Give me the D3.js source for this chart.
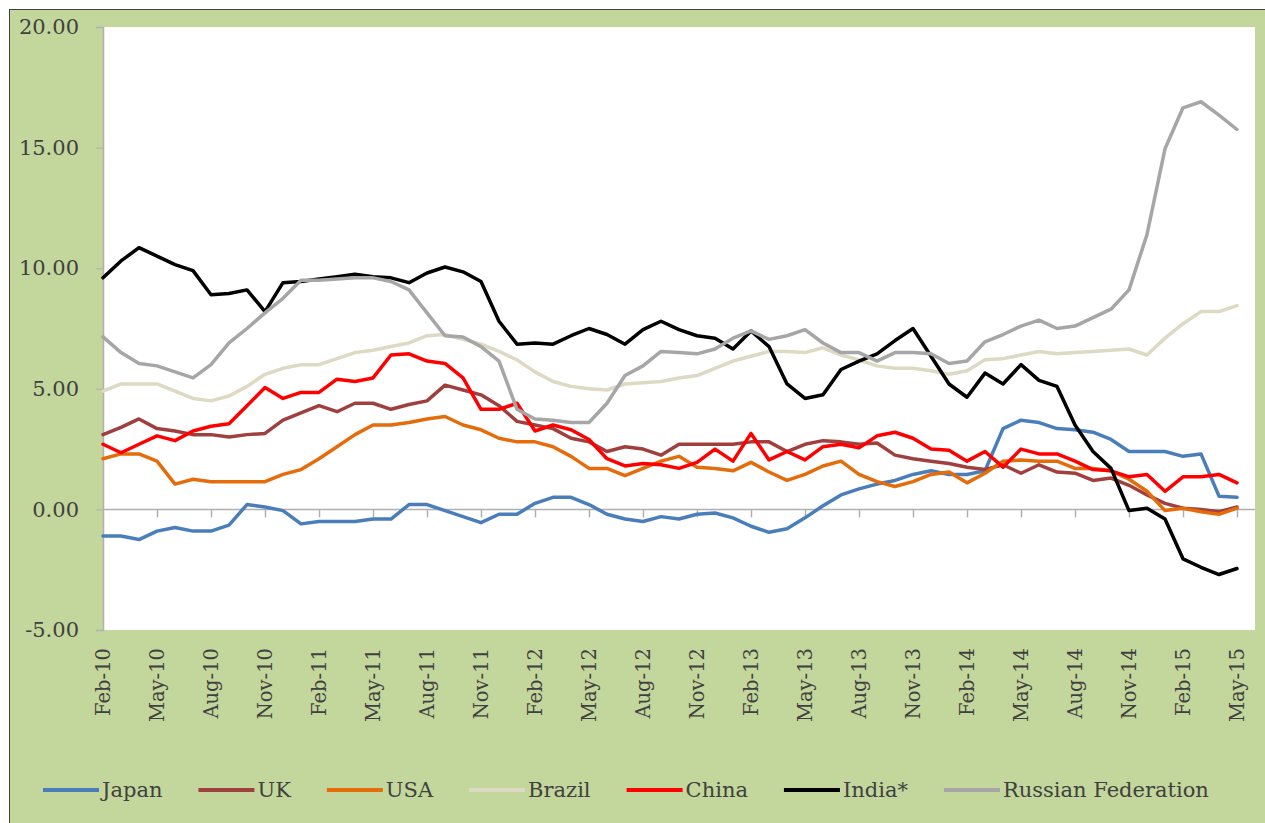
<!DOCTYPE html>
<html>
<head>
<meta charset="utf-8">
<script src="https://cdn.jsdelivr.net/npm/d3@7"></script>
<style>
    body { margin: 0; background: #ffffff; }
    svg { display: block; }
</style>
</head>
<body>
<svg id="chart" width="1265" height="823"></svg>
<script>
// x axis: one point per month, Feb-10 .. May-15
const tick_labels = ["Feb-10", "May-10", "Aug-10", "Nov-10", "Feb-11", "May-11", "Aug-11", "Nov-11",
    "Feb-12", "May-12", "Aug-12", "Nov-12", "Feb-13", "May-13", "Aug-13", "Nov-13",
    "Feb-14", "May-14", "Aug-14", "Nov-14", "Feb-15", "May-15"];
const month_count = 64;
const y_ticks = [-5, 0, 5, 10, 15, 20];

const series_names = ["Japan", "UK", "USA", "Brazil", "China", "India*", "Russian Federation"];
const series_colors = ["#4a7ebb", "#a0403e", "#e46c0a", "#ddd9c3", "#ff0000", "#000000", "#a6a6a6"];

const japan = [-1.1, -1.1, -1.25, -0.9, -0.75, -0.9, -0.9, -0.65,
    0.2, 0.1, -0.05, -0.6, -0.5, -0.5, -0.5, -0.4,
    -0.4, 0.2, 0.2, -0.05, -0.3, -0.55, -0.2, -0.2,
    0.25, 0.5, 0.5, 0.2, -0.2, -0.4, -0.5, -0.3,
    -0.4, -0.2, -0.15, -0.35, -0.7, -0.95, -0.8, -0.35,
    0.15, 0.6, 0.85, 1.05, 1.2, 1.45, 1.6, 1.45,
    1.45, 1.6, 3.35, 3.7, 3.6, 3.35, 3.3, 3.2,
    2.9, 2.4, 2.4, 2.4, 2.2, 2.3, 0.55, 0.5];
const uk = [3.1, 3.4, 3.75, 3.35, 3.25, 3.1, 3.1, 3.0,
    3.1, 3.15, 3.7, 4.0, 4.3, 4.05, 4.4, 4.4,
    4.15, 4.35, 4.5, 5.15, 4.95, 4.75, 4.3, 3.65,
    3.5, 3.35, 2.95, 2.8, 2.4, 2.6, 2.5, 2.25,
    2.7, 2.7, 2.7, 2.7, 2.8, 2.8, 2.4, 2.7,
    2.85, 2.8, 2.7, 2.75, 2.25, 2.1, 2.0, 1.9,
    1.75, 1.65, 1.85, 1.5, 1.85, 1.55, 1.5, 1.2,
    1.3, 1.0, 0.6, 0.25, 0.05, 0.0, -0.1, 0.1];
const usa = [2.1, 2.3, 2.3, 2.0, 1.05, 1.25, 1.15, 1.15,
    1.15, 1.15, 1.45, 1.65, 2.1, 2.6, 3.1, 3.5,
    3.5, 3.6, 3.75, 3.85, 3.5, 3.3, 2.95, 2.8,
    2.8, 2.6, 2.2, 1.7, 1.7, 1.4, 1.7, 2.0,
    2.2, 1.75, 1.7, 1.6, 1.95, 1.55, 1.2, 1.45,
    1.8, 2.0, 1.45, 1.15, 0.95, 1.15, 1.45, 1.55,
    1.1, 1.5, 2.0, 2.05, 2.0, 2.0, 1.7, 1.7,
    1.6, 1.25, 0.75, -0.05, 0.05, -0.1, -0.2, 0.05];
const brazil = [4.9, 5.2, 5.2, 5.2, 4.9, 4.6, 4.5, 4.7,
    5.1, 5.6, 5.85, 6.0, 6.0, 6.25, 6.5, 6.6,
    6.75, 6.9, 7.2, 7.25, 7.05, 6.85, 6.55, 6.2,
    5.7, 5.3, 5.1, 5.0, 4.95, 5.2, 5.25, 5.3,
    5.45, 5.55, 5.85, 6.15, 6.35, 6.55, 6.55, 6.5,
    6.7, 6.4, 6.2, 5.95, 5.85, 5.85, 5.75, 5.6,
    5.75, 6.2, 6.25, 6.4, 6.55, 6.45, 6.5, 6.55,
    6.6, 6.65, 6.4, 7.1, 7.7, 8.2, 8.2, 8.45];
const china = [2.7, 2.35, 2.7, 3.05, 2.85, 3.25, 3.45, 3.55,
    4.3, 5.05, 4.6, 4.85, 4.85, 5.4, 5.3, 5.45,
    6.4, 6.45, 6.15, 6.05, 5.45, 4.15, 4.15, 4.4,
    3.25, 3.5, 3.3, 2.9, 2.1, 1.8, 1.9, 1.85,
    1.7, 1.95, 2.5, 2.0, 3.15, 2.05, 2.4, 2.05,
    2.6, 2.7, 2.55, 3.05, 3.2, 2.95, 2.5, 2.45,
    2.0, 2.4, 1.75, 2.5, 2.3, 2.3, 2.0, 1.65,
    1.6, 1.35, 1.45, 0.75, 1.35, 1.35, 1.45, 1.1];
const india = [9.6, 10.3, 10.85, 10.5, 10.15, 9.9, 8.9, 8.95,
    9.1, 8.2, 9.4, 9.45, 9.55, 9.65, 9.75, 9.65,
    9.6, 9.4, 9.8, 10.05, 9.85, 9.45, 7.8, 6.85,
    6.9, 6.85, 7.2, 7.5, 7.25, 6.85, 7.45, 7.8,
    7.45, 7.2, 7.1, 6.65, 7.4, 6.75, 5.2, 4.6,
    4.75, 5.8, 6.15, 6.45, 7.0, 7.5, 6.35, 5.2,
    4.65, 5.65, 5.2, 6.0, 5.35, 5.1, 3.5, 2.4,
    1.7, -0.05, 0.05, -0.4, -2.05, -2.4, -2.7, -2.45];
const russia = [7.15, 6.5, 6.05, 5.95, 5.7, 5.45, 6.0, 6.9,
    7.5, 8.15, 8.75, 9.5, 9.5, 9.55, 9.6, 9.6,
    9.45, 9.1, 8.15, 7.2, 7.15, 6.75, 6.15, 4.15,
    3.75, 3.7, 3.6, 3.6, 4.4, 5.55, 5.95, 6.55,
    6.5, 6.45, 6.65, 7.1, 7.4, 7.05, 7.2, 7.45,
    6.9, 6.5, 6.5, 6.15, 6.5, 6.5, 6.45, 6.05,
    6.15, 6.95, 7.25, 7.6, 7.85, 7.5, 7.6, 7.95,
    8.3, 9.1, 11.4, 14.95, 16.65, 16.9, 16.35, 15.75];

const series_values = [japan, uk, usa, brazil, china, india, russia];

const svg = d3.select("#chart");
const text_font = "'DejaVu Serif', serif";
const text_color = "#404040";
const axis_color = "#b0b0b0";

// chart frame
svg.append("rect")
    .attr("x", 9.5)
    .attr("y", 9.5)
    .attr("width", 1265)
    .attr("height", 823)
    .attr("fill", "#c3d69b")
    .attr("stroke", "#404040")
    .attr("stroke-width", 1);

const plot_left = 103;
const plot_right = 1255;
const plot_top = 27;
const plot_bottom = 630;

// one extra slot after the last month, like the original
const x = d3.scaleLinear().domain([0, month_count]).range([plot_left, plot_right]);
const y = d3.scaleLinear().domain([-5, 20]).range([plot_bottom, plot_top]);

svg.append("rect")
    .attr("x", plot_left)
    .attr("y", plot_top)
    .attr("width", plot_right - plot_left)
    .attr("height", plot_bottom - plot_top)
    .attr("fill", "#ffffff");

// y axis (plain hyphen for negatives, as in the original)
const y_axis = svg.append("g")
    .attr("transform", `translate(${plot_left},0)`)
    .call(d3.axisLeft(y).tickValues(y_ticks).tickSize(7).tickPadding(17).tickFormat(d => d.toFixed(2)));
y_axis.select(".domain").attr("stroke", axis_color).attr("stroke-width", 1.5);
y_axis.selectAll(".tick line").attr("stroke", axis_color);
y_axis.selectAll(".tick text")
    .attr("font-family", text_font)
    .attr("font-size", 21)
    .attr("fill", text_color);

// horizontal axis at zero
const tick_index = tick_labels.map((d, i) => i * 3);
const x_axis = svg.append("g")
    .attr("transform", `translate(0,${y(0)})`)
    .call(d3.axisBottom(x).tickValues(tick_index.filter(d => d > 0)).tickSize(8).tickFormat(""));
x_axis.select(".domain").attr("stroke", axis_color).attr("stroke-width", 1.5)
    .attr("d", `M${plot_left},0H${plot_right}`);
x_axis.selectAll(".tick line").attr("stroke", axis_color).attr("stroke-width", 1.5);

// month labels below the plot
svg.append("g")
    .selectAll("text")
    .data(tick_labels)
    .join("text")
    .attr("transform", (d, i) => `translate(${x(tick_index[i])},648) rotate(-90)`)
    .attr("text-anchor", "end")
    .attr("dominant-baseline", "central")
    .attr("font-family", text_font)
    .attr("font-size", 19.5)
    .attr("fill", text_color)
    .text(d => d);

// series lines
const line = d3.line()
    .x((d, i) => x(i))
    .y(d => y(d));

svg.append("g")
    .selectAll("path")
    .data(series_values)
    .join("path")
    .attr("d", d => line(d))
    .attr("fill", "none")
    .attr("stroke", (d, i) => series_colors[i])
    .attr("stroke-width", 3.5)
    .attr("stroke-linejoin", "round")
    .attr("stroke-linecap", "round");

// legend
const legend = svg.append("g");
let legend_x = 43;
const legend_y = 790;
for (let s = 0; s < series_names.length; s++) {
    legend.append("line")
        .attr("x1", legend_x)
        .attr("x2", legend_x + 56)
        .attr("y1", legend_y)
        .attr("y2", legend_y)
        .attr("stroke", series_colors[s])
        .attr("stroke-width", 4);
    const label = legend.append("text")
        .attr("x", legend_x + 59)
        .attr("y", legend_y)
        .attr("dominant-baseline", "central")
        .attr("font-family", text_font)
        .attr("font-size", 21)
        .attr("fill", text_color)
        .text(series_names[s]);
    legend_x += 59 + label.node().getComputedTextLength() + 36;
}
</script>
</body>
</html>
